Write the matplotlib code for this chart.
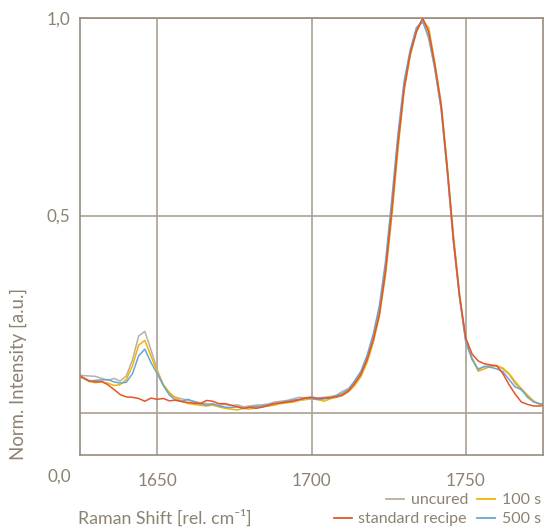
import numpy as np
import matplotlib
matplotlib.use("Agg")
import matplotlib.pyplot as plt
from matplotlib.lines import Line2D

# -------------------------
# data
# -------------------------
shift = list(range(1624, 1777, 2))

uncured = [
    0.097, 0.095, 0.094, 0.093, 0.088, 0.083, 0.088, 0.081, 0.094, 0.135,
    0.195, 0.207, 0.160, 0.110, 0.070, 0.046, 0.040, 0.036, 0.033, 0.030,
    0.026, 0.024, 0.022, 0.020, 0.022, 0.019, 0.021, 0.016, 0.018, 0.020,
    0.021, 0.023, 0.028, 0.030, 0.032, 0.036, 0.040, 0.039, 0.041, 0.038,
    0.040, 0.042, 0.045, 0.055, 0.062, 0.080, 0.102, 0.140, 0.192, 0.262,
    0.370, 0.520, 0.690, 0.830, 0.915, 0.975, 0.995, 0.945, 0.870, 0.770,
    0.610, 0.430, 0.290, 0.180, 0.135, 0.112, 0.118, 0.120, 0.119, 0.112,
    0.098, 0.075, 0.058, 0.045, 0.030, 0.022, 0.022,
]
s100 = [
    0.095, 0.088, 0.080, 0.077, 0.079, 0.076, 0.070, 0.072, 0.085, 0.120,
    0.172, 0.184, 0.145, 0.105, 0.072, 0.052, 0.038, 0.030, 0.024, 0.022,
    0.020, 0.018, 0.020, 0.016, 0.012, 0.010, 0.008, 0.012, 0.010, 0.014,
    0.016, 0.018, 0.020, 0.024, 0.026, 0.028, 0.032, 0.034, 0.036, 0.035,
    0.030, 0.036, 0.040, 0.044, 0.054, 0.070, 0.092, 0.128, 0.178, 0.245,
    0.350, 0.495, 0.665, 0.815, 0.905, 0.965, 0.995, 0.975, 0.885, 0.785,
    0.625, 0.450, 0.300, 0.185, 0.140, 0.106, 0.112, 0.118, 0.120, 0.114,
    0.100, 0.080, 0.062, 0.045, 0.030, 0.022, 0.020,
]
s500 = [
    0.104, 0.090, 0.080, 0.083, 0.084, 0.085, 0.079, 0.076, 0.078, 0.100,
    0.145, 0.162, 0.128, 0.100, 0.070, 0.046, 0.032, 0.030, 0.035, 0.028,
    0.024, 0.020, 0.024, 0.018, 0.015, 0.014, 0.016, 0.012, 0.015, 0.017,
    0.018, 0.022, 0.024, 0.026, 0.030, 0.033, 0.035, 0.038, 0.037, 0.034,
    0.036, 0.038, 0.044, 0.050, 0.060, 0.082, 0.106, 0.146, 0.200, 0.272,
    0.385, 0.540, 0.705, 0.840, 0.920, 0.975, 0.990, 0.955, 0.870, 0.770,
    0.610, 0.435, 0.290, 0.180, 0.138, 0.110, 0.118, 0.116, 0.112, 0.105,
    0.085, 0.066, 0.060, 0.040, 0.028, 0.024, 0.022,
]
standard = [
    0.094, 0.090, 0.082, 0.079, 0.080, 0.072, 0.060, 0.047, 0.041, 0.040,
    0.037, 0.030, 0.038, 0.035, 0.037, 0.031, 0.033, 0.029, 0.027, 0.025,
    0.024, 0.032, 0.030, 0.024, 0.024, 0.020, 0.016, 0.012, 0.015, 0.012,
    0.015, 0.019, 0.024, 0.026, 0.028, 0.030, 0.034, 0.038, 0.040, 0.037,
    0.038, 0.039, 0.041, 0.046, 0.056, 0.075, 0.098, 0.135, 0.185, 0.250,
    0.360, 0.510, 0.680, 0.820, 0.910, 0.965, 1.000, 0.965, 0.880, 0.780,
    0.620, 0.440, 0.295, 0.190, 0.150, 0.132, 0.125, 0.122, 0.120, 0.100,
    0.072, 0.048, 0.028, 0.022, 0.018, 0.018, 0.020,
]

series_names = ["uncured", "100 s", "500 s", "standard recipe"]
series_vals = [uncured, s100, s500, standard]
series_cols = ["#b9b0a5", "#f2b400", "#67a7d4", "#e8532b"]

x_ticks = [1650, 1700, 1750]
y_ticks = [0.0, 0.5, 1.0]
y_labels = ["", "0,5", "1,0"]

TXT = "#8c8271"
GRID = "#aaa196"
FRAME = "#978c7d"

plt.rcParams["font.family"] = ["Lato", "DejaVu Sans"]
plt.rcParams["font.size"] = 12

# -------------------------
# figure
# -------------------------
fig = plt.figure(figsize=(5.44, 5.29), dpi=100)
ax = fig.add_axes([80 / 544, 1 - 455 / 529, 463 / 544, 437 / 529])

for name, vals, col in zip(series_names, series_vals, series_cols):
    ax.plot(shift, vals, color=col, lw=1.1, label=name)

ax.set_xlim(1625, 1775)
ax.set_ylim(-0.106, 1.0)
ax.set_xticks(x_ticks)
ax.set_xticklabels([str(t) for t in x_ticks])
ax.set_yticks(y_ticks)
ax.set_yticklabels(y_labels)
ax.tick_params(length=0, colors=TXT, labelsize=12.3)
ax.tick_params(axis="x", pad=13)
ax.tick_params(axis="y", pad=7)
ax.grid(True, color=GRID, lw=1.2)
ax.set_axisbelow(True)
for sp in ax.spines.values():
    sp.set_color(FRAME)
    sp.set_linewidth(1.2)

# the 0,0 label sits on the height of the x tick labels
fig.text(71 / 544, 1 - 477 / 529, "0,0", color=TXT, fontsize=12.3,
         ha="right", va="center")

fig.text(18 / 544, 1 - 374 / 529, "Norm. Intensity [a.u.]", color=TXT,
         fontsize=13.4, rotation=90, ha="center", va="center")
fig.text(78 / 544, 1 - 518 / 529, "Raman Shift [rel. cm\u207b\u00b9]",
         color=TXT, fontsize=12.8, ha="left", va="center")

# -------------------------
# legend (right aligned, drawn by hand)
# -------------------------
fig.canvas.draw()
renderer = fig.canvas.get_renderer()
W, H = fig.get_size_inches() * fig.dpi
rows = [
    (500, [("uncured", series_cols[0], 468), ("100 s", series_cols[1], 541)]),
    (519, [("standard recipe", series_cols[3], 467), ("500 s", series_cols[2], 541)]),
]
for ypx, items in rows:
    for label, col, xr in items:
        t = fig.text(xr / W, 1 - ypx / H, label, color=TXT, fontsize=11.5,
                     ha="right", va="center")
        bb = t.get_window_extent(renderer)
        x0 = bb.x0 - 7
        fig.add_artist(Line2D([(x0 - 18) / W, x0 / W], [1 - (ypx - 1) / H] * 2,
                              color=col, lw=1.3, transform=fig.transFigure))

fig.savefig("out.png", dpi=100)
